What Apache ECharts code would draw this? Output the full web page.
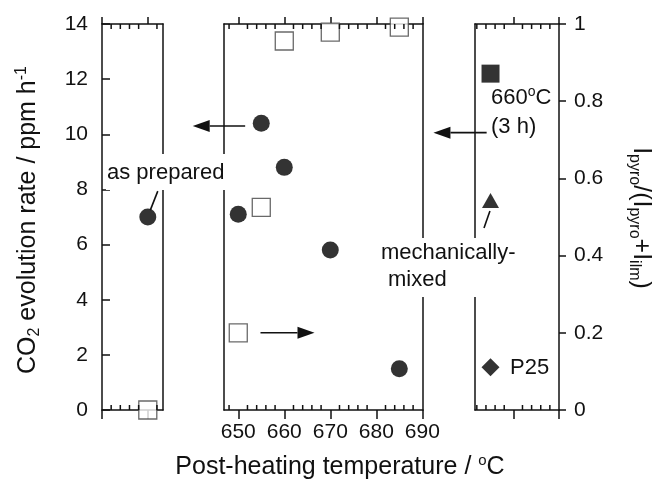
<!DOCTYPE html>
<html><head><meta charset="utf-8">
<script src="https://cdn.jsdelivr.net/npm/echarts@6/dist/echarts.min.js"></script>
<style>html,body{margin:0;padding:0;background:#fff}#c{width:652px;height:483px}</style>
</head><body><div id="c"></div>
<script>
// ---- data ----
const asPreparedX = [10];
const asPreparedCO2 = [7.0];
const asPreparedRatio = [0.0];
const postHeatTemps = [650, 655, 660, 670, 685];
const postHeatCO2 = [7.1, 10.4, 8.8, 5.8, 1.5];
const postHeatRatio = [0.20, 0.525, 0.956, 0.979, 0.992];
const otherX = [655];
const heated3hCO2 = [12.2];
const mechMixedCO2 = [7.6];
const p25CO2 = [1.55];
const midMajor = [650, 660, 670, 680, 690];
const midMinor = [648, 652, 654, 656, 658, 662, 664, 666, 668, 672, 674, 676, 678, 682, 684, 686, 688];
const leftMajor = [0, 10];
const leftMinor = [2, 4, 6, 8, 12];
const rightMajor = [660, 670];
const rightMinor = [652, 654, 656, 658, 662, 664, 666, 668];

const FONT = "'Liberation Sans', Arial, Helvetica, sans-serif";
const INK = '#111';
const LW = 1.5;
const chart = echarts.init(document.getElementById('c'));

const grids = [
  {left: 102, top: 24, width: 61, height: 386, outerBoundsMode: 'none'},
  {left: 224, top: 24, width: 199, height: 386, outerBoundsMode: 'none'},
  {left: 475, top: 24, width: 84, height: 386, outerBoundsMode: 'none'}
];
const xRanges = [[0, 13.32], [646.9, 690.15], [651.6, 670]];
const majors = [leftMajor, midMajor, rightMajor];
const minors = [leftMinor, midMinor, rightMinor];

function xAx(g, pos, vals, len, labels) {
  return {
    type: 'value', gridIndex: g, position: pos, min: xRanges[g][0], max: xRanges[g][1],
    axisLine: {show: true, onZero: false, lineStyle: {color: INK, width: LW}},
    axisTick: {show: true, inside: false, length: len, customValues: vals, lineStyle: {color: INK, width: LW}},
    axisLabel: labels ? {show: true, customValues: labels, fontSize: 21, fontFamily: FONT, color: INK, margin: 12} : {show: false},
    splitLine: {show: false}, minorTick: {show: false}, axisPointer: {show: false}
  };
}
const xAxes = [];
for (let g = 0; g < 3; g++) {
  xAxes.push(xAx(g, 'bottom', majors[g], 9, g === 1 ? midMajor : null));
  xAxes.push(xAx(g, 'top', majors[g], 7, null));
}
function yAx(g, pos, kind, ticks, labels) {
  const co2 = kind === 'co2';
  return {
    type: 'value', gridIndex: g, position: pos, min: 0, max: co2 ? 14 : 1, interval: co2 ? 2 : 0.2,
    axisLine: {show: true, onZero: false, lineStyle: {color: INK, width: LW}},
    axisTick: ticks ? {show: true, inside: ticks === 'in', length: ticks === 'in' ? 8 : 7, lineStyle: {color: INK, width: LW}} : {show: false},
    axisLabel: labels ? {show: true, fontSize: 21, fontFamily: FONT, color: INK, margin: pos === 'left' ? 14 : 15} : {show: false},
    splitLine: {show: false}
  };
}
const yAxes = [
  yAx(0, 'left', 'co2', 'in', true),
  yAx(0, 'right', 'ratio', null, false),
  yAx(1, 'left', 'co2', null, false),
  yAx(1, 'right', 'ratio', null, false),
  yAx(2, 'left', 'co2', null, false),
  yAx(2, 'right', 'ratio', 'out', true)
];
const pairs = (xs, ys) => xs.map((x, i) => [x, ys[i]]);
const dot = {color: '#000'};
const open = {color: '#fff', borderColor: '#444', borderWidth: 1.3};

const series = [
  {type: 'scatter', xAxisIndex: 0, yAxisIndex: 1, symbol: 'rect', symbolSize: 18, itemStyle: open, data: pairs(asPreparedX, asPreparedRatio)},
  {type: 'scatter', xAxisIndex: 0, yAxisIndex: 0, symbol: 'circle', symbolSize: 17, itemStyle: dot, data: pairs(asPreparedX, asPreparedCO2)},
  {type: 'scatter', xAxisIndex: 2, yAxisIndex: 3, symbol: 'rect', symbolSize: 18, itemStyle: open, data: pairs(postHeatTemps, postHeatRatio)},
  {type: 'scatter', xAxisIndex: 2, yAxisIndex: 2, symbol: 'circle', symbolSize: 17, itemStyle: dot, data: pairs(postHeatTemps, postHeatCO2)},
  {type: 'scatter', xAxisIndex: 4, yAxisIndex: 4, symbol: 'rect', symbolSize: 18, itemStyle: dot, data: pairs(otherX, heated3hCO2)},
  {type: 'scatter', xAxisIndex: 4, yAxisIndex: 4, symbol: 'triangle', symbolSize: [17, 15], itemStyle: dot, data: pairs(otherX, mechMixedCO2)},
  {type: 'scatter', xAxisIndex: 4, yAxisIndex: 4, symbol: 'diamond', symbolSize: 18, itemStyle: dot, data: pairs(otherX, p25CO2)}
].map(s => Object.assign(s, {clip: false, silent: true, animation: false}));

chart.setOption({
  animation: false,
  backgroundColor: '#fff',
  grid: grids, xAxis: xAxes, yAxis: yAxes, series: series
});

// ---- annotations ----
const px = (g, v) => chart.convertToPixel({xAxisIndex: 2 * g, yAxisIndex: 2 * g}, v);
const G = [];
// minor ticks (inward, bottom & top) placed through each panel's x scale
for (let g = 0; g < 3; g++) {
  minors[g].forEach(v => {
    const b = px(g, [v, 0]), t = px(g, [v, 14]);
    G.push({type: 'line', z: 40, shape: {x1: b[0], y1: b[1], x2: b[0], y2: b[1] - 5}, style: {stroke: INK, lineWidth: LW}});
    G.push({type: 'line', z: 40, shape: {x1: t[0], y1: t[1], x2: t[0], y2: t[1] + 5}, style: {stroke: INK, lineWidth: LW}});
  });
}
function text(x, y, t, size) {
  G.push({type: 'text', x: x, y: y, z: 60,
    style: {text: t, fontSize: size, fontFamily: FONT, fill: INK, align: 'left', verticalAlign: 'middle',
      rich: {
        sup: {fontSize: Math.round(size * 0.62), fontFamily: FONT, fill: INK, padding: [0, 0, Math.round(size * 0.5), 0]}
      }}});
}
function whiteBox(x, y, w, h) {
  G.push({type: 'rect', z: 50, shape: {x: x, y: y, width: w, height: h}, style: {fill: '#fff'}});
}
function seg(g, a, b) {
  const p = px(g, a), q = px(g, b);
  G.push({type: 'line', z: 60, shape: {x1: p[0], y1: p[1], x2: q[0], y2: q[1]}, style: {stroke: INK, lineWidth: 1.6}});
}
function arrow(g, a, b) {
  const p = px(g, a), q = px(g, b);
  const dx = q[0] - p[0], dy = q[1] - p[1], L = Math.hypot(dx, dy), ux = dx / L, uy = dy / L;
  const hl = 17, hw = 6;
  const bx = q[0] - ux * hl, by = q[1] - uy * hl;
  G.push({type: 'line', z: 60, shape: {x1: p[0], y1: p[1], x2: bx, y2: by}, style: {stroke: INK, lineWidth: 1.6}});
  G.push({type: 'polygon', z: 60, shape: {points: [[q[0], q[1]], [bx - uy * hw, by + ux * hw], [bx + uy * hw, by - ux * hw]]}, style: {fill: INK}});
}

whiteBox(106, 154, 121, 36);
whiteBox(380, 238, 143, 59);
text(107, 173, 'as prepared', 22);
text(381, 253, 'mechanically-', 22);
text(388, 280, 'mixed', 22);
text(491, 98, '660{sup|o}C', 22);
text(491, 127, '(3 h)', 22);
text(510, 368, 'P25', 22);

seg(0, [12.18, 7.94], [10.55, 7.25]);
seg(2, [653.57, 6.60], [654.87, 7.22]);
arrow(1, [651.5, 10.3], [640.1, 10.3]);
arrow(1, [654.83, 2.80], [666.57, 2.80]);
arrow(2, [654.15, 10.06], [642.5, 10.06]);

G.push({type: 'text', x: 340, y: 467, z: 60,
  style: {text: 'Post-heating temperature / {sup|o}C', fontSize: 25, fontFamily: FONT, fill: INK, align: 'center', verticalAlign: 'middle',
    rich: {sup: {fontSize: 15, fontFamily: FONT, fill: INK, padding: [0, 0, 13, 0]}}}});
G.push({type: 'text', x: 28, y: 220, rotation: Math.PI / 2, z: 60,
  style: {text: 'CO{sub|2} evolution rate / ppm h{sup|-1}', fontSize: 25, fontFamily: FONT, fill: INK, align: 'center', verticalAlign: 'middle',
    rich: {sub: {fontSize: 16, fontFamily: FONT, fill: INK, padding: [13, 0, 0, 0]},
           sup: {fontSize: 16, fontFamily: FONT, fill: INK, padding: [0, 0, 13, 0]}}}});
G.push({type: 'text', x: 641, y: 218, rotation: -Math.PI / 2, z: 60,
  style: {text: 'I{sub|pyro}/(I{sub|pyro}+I{sub|ilm})', fontSize: 25, fontFamily: FONT, fill: INK, align: 'center', verticalAlign: 'middle',
    rich: {sub: {fontSize: 16, fontFamily: FONT, fill: INK, padding: [13, 0, 0, 0]}}}});

chart.setOption({graphic: G});
</script></body></html>
